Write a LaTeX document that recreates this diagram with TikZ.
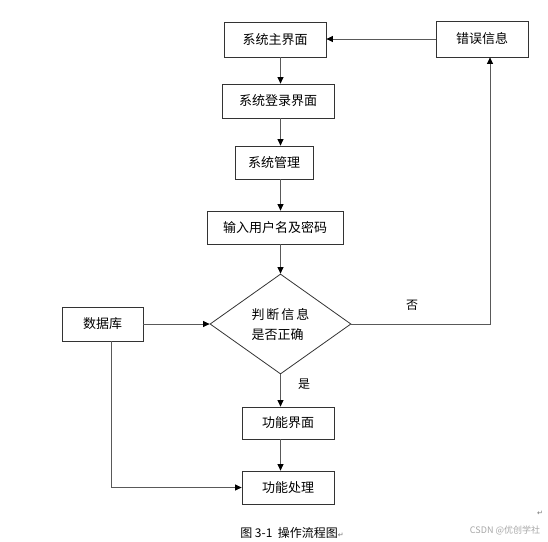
\documentclass[tikz,border=0pt]{standalone}
\usepackage{fontspec}
\setmainfont{Noto Sans CJK SC}
\newfontfamily\symfont{DejaVu Sans}
\usetikzlibrary{shapes.geometric,arrows.meta}

\begin{document}
\begin{tikzpicture}[x=1pt,y=-1pt,
  box/.style={draw=black!80,line width=0.8pt,inner sep=0pt,font=\fontsize{13}{15}\selectfont},
  judge/.style={diamond,draw=black!80,line width=0.8pt,inner sep=0pt,aspect=1.4,align=left,font=\fontsize{13}{20}\selectfont},
  flow/.style={draw=black!65,line width=0.8pt,-{Triangle[length=6.5pt,width=6pt,color=black]}},
  lbl/.style={font=\fontsize{12}{14}\selectfont}]
\useasboundingbox (0,0) rectangle (548,541);
\node[box,minimum width=102pt,minimum height=35pt] (main) at (275,39.5) {系统主界面};
\node[box,minimum width=92pt,minimum height=36pt] (err) at (482,39) {错误信息};
\node[box,minimum width=112pt,minimum height=34pt] (login) at (278,101) {系统登录界面};
\node[box,minimum width=78pt,minimum height=33pt] (manage) at (274,162.5) {系统管理};
\node[box,minimum width=136pt,minimum height=33pt] (input) at (275,227.5) {输入用户名及密码};
\node[judge,minimum width=141pt,minimum height=100pt] (check) at (280.5,324) {判\hspace{2pt}断\hspace{2pt}信\hspace{2pt}息\\是否正确};
\node[box,minimum width=81pt,minimum height=34pt] (db) at (102.5,324) {数据库};
\node[box,minimum width=92pt,minimum height=32pt] (func) at (288,423) {功能界面};
\node[box,minimum width=92pt,minimum height=33pt] (proc) at (288,487.5) {功能处理};
\node[lbl] (no) at (412,305) {否};
\node[lbl] (yes) at (304,384) {是};
\node[lbl] (caption) at (292,533) {图 3-1\ \ 操作流程图{\symfont\color{black!55}\scriptsize ↵}};
\node[font=\fontsize{9}{11}\selectfont,text=black!35] (mark) at (505,530) {CSDN @优创学社};
\node[font=\symfont\scriptsize,text=black!55] (ret) at (540,513) {↵};
% connectors
\draw[flow] (err.west) -- (err.west -| main.east);
\draw[flow] (main.south -| check.north) -- (login.north -| check.north);
\draw[flow] (login.south -| check.north) -- (manage.north -| check.north);
\draw[flow] (manage.south -| check.north) -- (input.north -| check.north);
\draw[flow] (input.south -| check.north) -- (check.north);
\draw[flow] (check.east) -| ([xshift=8pt]err.south);
\draw[flow] (check.south) -- (func.north -| check.south);
\draw[flow] (func.south -| check.south) -- (proc.north -| check.south);
\draw[flow] (db.east) -- (check.west);
\draw[flow] ([xshift=9pt]db.south) |- (proc.west);
\end{tikzpicture}
\end{document}
